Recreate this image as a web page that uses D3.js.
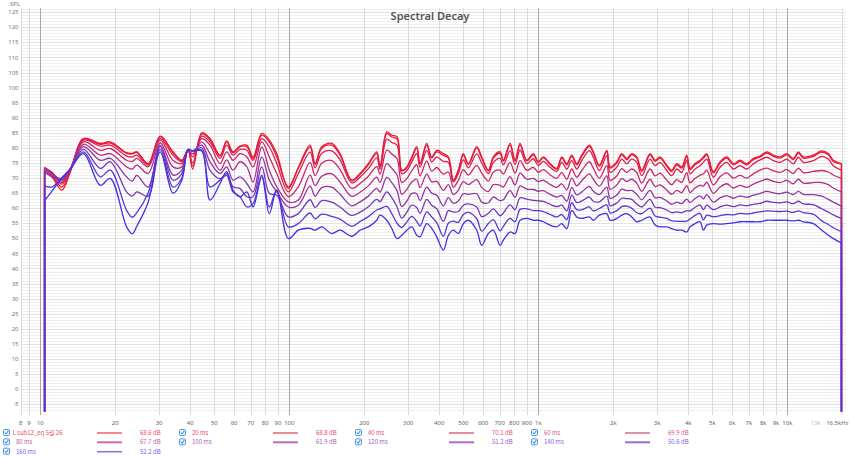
<!DOCTYPE html>
<html><head><meta charset="utf-8">
<script src="https://cdn.jsdelivr.net/npm/d3@7"></script>
<style>
html,body{margin:0;padding:0;background:#fff;}
svg{display:block;font-family:"Noto Sans","Noto Sans CJK KR",sans-serif;}
</style></head><body>
<svg id="chart" width="850" height="457"></svg>
<script>
// ---------------- data ----------------
const freqs = [10.4, 11.1, 12.2, 13.2, 14.9, 17.4, 19.1, 22.2, 23.4, 24.4, 27.1, 30.3, 34.1, 37.0, 39.2, 40.9, 44.5, 48.0, 52.7, 56.0, 59.4, 63.4, 67.5, 71.5, 77.5, 83.1, 89.0, 99.1, 108.7,
 121.1, 126.9, 134.9, 148.0, 159.8, 178.1, 192.3, 207.7, 224.4, 231.3, 246.2, 257.8, 270.8, 282.8, 296.2, 310.2, 324.8, 334.9, 356.2, 373.1, 390.8, 415.5, 435.2, 455.7, 477.2, 499.7, 523.4, 565.6, 592.4, 629.9, 659.7, 701.9, 723.6, 769.8, 806.3, 844.5, 898.3, 954.8, 1000, 1047, 1114, 1185,
 1242, 1301, 1362, 1426, 1494, 1603, 1663, 1758, 1883, 1941, 2065, 2163, 2265, 2372, 2484, 2602, 2809, 2942, 3081, 3278, 3433, 3595, 3766, 3944, 4066, 4259, 4461, 4600, 4747, 5044, 5367, 5710, 6068, 6457, 6870, 7303, 7770, 8268, 8787, 9349, 9945, 10571, 11071, 11593, 12720, 13748, 14610, 15299, 16500];

const s0ms = [72, 70.5, 66, 72, 83.1, 81.5, 82, 78.4, 78.2, 78.7, 74.8, 83.9, 78.7, 75.9, 79.5, 73, 85, 83.1, 77.6, 82.3, 78.7, 80.6, 80.9, 77, 84.8, 82.6, 78.1, 66.5, 73.5,
 80.9, 74.8, 80.4, 81.5, 78.1, 69.3, 71.5, 74.8, 78.7, 73.7, 85.3, 84.2, 83.7, 72.6, 73.7, 77.0, 80.4, 74.8, 81.5, 77.0, 79.2, 78.1, 77.0, 69.3, 72.6, 78.1, 74.8, 80.4, 77.0, 72.6, 77.0, 78.7, 75.9, 81.5, 75.9, 81.5, 75.9, 78.1, 75.4, 77.0, 74.8, 73.2,
 77.0, 74.8, 77.6, 74.8, 77.6, 80.9, 78.7, 74.3, 79.2, 73.7, 75.4, 78.1, 76.5, 78.1, 77.0, 72.6, 78.1, 75.9, 77.0, 74.3, 72.6, 74.8, 73.7, 77.6, 73.2, 74.8, 75.9, 77.0, 78.1, 72.1, 75.4, 77.0, 74.8, 75.9, 74.8, 76.5, 77.3, 78.7, 77.6, 77.0, 78.1, 76.5, 78.7, 77.0, 77.6, 79.0, 78.1, 75.9, 74.8];
const s20ms = [72.5, 71, 67, 72.5, 82.9, 81.2, 81.6, 78.2, 78, 78.5, 74.6, 83.7, 78.4, 75.7, 79.4, 74, 84.6, 82.8, 77.3, 82, 78.4, 80.4, 80.4, 76.5, 84.2, 82, 77, 67.1, 73.3,
 80.3, 74.5, 79.9, 80.9, 77.6, 69.1, 71.2, 74.4, 78.2, 73.6, 84.7, 83.6, 83.0, 72.4, 73.4, 76.6, 79.9, 74.6, 80.9, 76.6, 78.7, 77.5, 76.6, 69.2, 72.4, 77.6, 74.5, 79.9, 76.6, 72.4, 76.6, 78.2, 75.6, 80.9, 75.6, 81.0, 75.7, 77.7, 75.2, 76.7, 74.6, 73.0,
 76.6, 74.4, 77.2, 74.4, 77.2, 80.5, 78.3, 73.9, 78.8, 73.3, 75.0, 77.7, 76.1, 77.7, 76.6, 72.2, 77.7, 75.5, 76.6, 73.9, 72.2, 74.4, 73.3, 77.2, 72.8, 74.4, 75.5, 76.6, 77.7, 71.7, 75.0, 76.6, 74.4, 75.5, 74.4, 76.1, 77.0, 78.3, 77.2, 76.6, 77.7, 76.1, 78.3, 76.6, 77.2, 78.6, 77.7, 75.5, 74.6];
const s40ms = [73, 71.5, 68, 73, 82.6, 80.6, 80.9, 77.3, 77, 77.6, 74.3, 83.1, 77.6, 75.4, 79.3, 75, 83.9, 82, 76.5, 80.9, 77.6, 79.5, 79.2, 75.9, 83.1, 80.3, 74.8, 65.4, 71.5,
 78.6, 73.4, 78.2, 79.0, 76.0, 68.4, 70.3, 73.1, 76.7, 73.0, 82.9, 81.8, 80.9, 71.4, 72.4, 75.3, 78.1, 73.6, 79.2, 75.3, 77.0, 75.5, 75.2, 68.7, 71.5, 76.0, 73.4, 78.0, 75.0, 71.5, 75.2, 76.5, 74.4, 79.0, 74.5, 79.3, 74.8, 76.4, 74.2, 75.5, 73.6, 72.2,
 75.2, 73.0, 75.8, 73.0, 75.8, 79.1, 76.9, 72.5, 77.4, 71.9, 73.6, 76.3, 74.7, 76.3, 75.2, 70.8, 76.3, 74.1, 75.2, 72.5, 70.8, 73.0, 71.9, 75.8, 71.4, 73.0, 74.1, 75.2, 76.3, 70.3, 73.6, 75.2, 73.0, 74.1, 73.0, 74.7, 76.0, 76.9, 75.8, 75.2, 76.3, 74.7, 76.9, 75.2, 75.8, 77.2, 76.3, 74.1, 72.6];
const s60ms = [73.5, 72, 68.5, 73, 82, 79.2, 79.8, 75.9, 75.5, 76.5, 73.7, 82.6, 75.9, 74.8, 79.2, 77, 83.1, 80.9, 74.8, 78.7, 75.9, 78.1, 77, 73.7, 82, 77, 71.5, 63.8, 67.1,
 75.2, 70.8, 74.9, 75.8, 72.8, 66.6, 68.2, 70.6, 73.8, 71.3, 79.3, 78.0, 76.4, 68.5, 69.8, 72.4, 74.4, 70.7, 75.6, 72.3, 73.5, 71.3, 72.0, 67.0, 69.2, 72.8, 71.0, 74.2, 71.6, 69.0, 72.0, 72.6, 71.3, 75.2, 71.6, 75.8, 72.6, 73.5, 71.9, 72.8, 71.1, 69.9,
 71.8, 69.6, 73.0, 70.3, 72.5, 75.4, 73.3, 70.0, 74.1, 69.2, 70.7, 73.1, 71.9, 73.0, 71.8, 68.3, 73.0, 70.7, 71.6, 69.3, 67.8, 69.5, 68.6, 71.8, 68.4, 69.9, 70.9, 71.4, 72.6, 67.7, 70.4, 71.7, 70.0, 70.9, 70.0, 71.4, 72.6, 73.3, 72.4, 71.9, 72.8, 71.5, 73.3, 71.8, 72.2, 72.5, 72.0, 71.0, 69.9];
const s80ms = [73.5, 72, 69, 73, 81.2, 77.6, 78.1, 73.7, 73, 74.3, 71.5, 81.7, 73.7, 73.7, 79.2, 78, 82, 78.1, 72.6, 76, 72.6, 75.4, 73.7, 68.7, 80.3, 72.6, 67.1, 62.1, 62.7,
 71.0, 67.5, 70.6, 71.4, 68.7, 63.9, 65.3, 67.4, 70.3, 68.5, 74.8, 73.2, 71.0, 64.6, 66.2, 68.7, 69.6, 66.8, 71.3, 68.7, 68.9, 65.9, 67.8, 64.5, 66.0, 68.8, 67.8, 69.5, 66.9, 65.5, 67.8, 67.6, 67.0, 70.5, 67.7, 71.6, 69.6, 69.9, 68.8, 69.3, 67.9, 66.9,
 68.1, 66.1, 70.0, 67.4, 69.1, 71.4, 69.6, 67.3, 70.7, 66.3, 67.7, 69.8, 68.9, 69.6, 68.3, 65.6, 69.6, 67.2, 67.7, 66.0, 64.6, 65.9, 65.2, 67.5, 65.2, 66.7, 67.6, 67.3, 68.6, 64.9, 67.0, 68.1, 66.7, 67.6, 66.9, 68.0, 68.9, 69.6, 68.9, 68.5, 69.2, 68.1, 69.6, 68.3, 68.5, 68.5, 67.8, 66.7, 65.4];
const s100ms = [73, 71.5, 69.5, 73, 80.4, 75.9, 76.5, 70.4, 69, 70.9, 67, 80.9, 71, 72.6, 79.2, 79, 80.9, 75.4, 71.5, 73.7, 69.3, 70.4, 68.2, 65.4, 77, 69.3, 65.4, 60.4, 61,
 67.3, 64.0, 66.8, 67.0, 64.6, 60.8, 62.1, 64.0, 66.6, 65.3, 70.2, 68.5, 65.8, 60.5, 62.3, 64.9, 64.8, 62.5, 67.0, 65.0, 64.3, 60.8, 63.5, 61.6, 62.4, 64.8, 64.6, 64.8, 62.0, 61.8, 63.7, 62.5, 62.8, 65.8, 63.6, 67.4, 66.3, 66.2, 65.6, 65.8, 64.6, 63.7,
 64.2, 62.3, 66.9, 64.4, 65.4, 67.2, 65.6, 64.5, 67.0, 63.3, 64.4, 66.3, 65.8, 65.9, 64.6, 62.8, 65.9, 63.5, 63.6, 62.4, 61.3, 62.0, 61.5, 63.0, 61.9, 63.2, 64.1, 63.1, 64.5, 62.0, 63.4, 64.2, 63.3, 64.1, 63.6, 64.3, 64.9, 65.6, 65.1, 64.8, 65.3, 64.5, 65.6, 64.6, 64.5, 64.0, 62.9, 62.0, 60.7];
const s120ms = [72, 70.5, 70, 73, 79.5, 73.2, 75.4, 65.4, 64, 65.4, 64, 80.4, 69.3, 71.5, 79.3, 79, 80, 72.6, 69.8, 71.5, 67.1, 66.5, 63.8, 63.8, 73.7, 64.9, 64.3, 57.1, 58.2,
 62.8, 60.2, 62.5, 62.0, 60.4, 57.6, 58.7, 60.5, 62.9, 62.2, 65.4, 63.5, 60.4, 56.7, 58.6, 61.0, 60.2, 58.3, 62.9, 61.0, 59.8, 55.6, 59.2, 58.7, 58.9, 61.0, 61.4, 60.4, 57.2, 58.3, 59.8, 57.5, 58.4, 61.1, 59.5, 63.4, 63.0, 62.6, 62.4, 62.3, 61.3, 60.5,
 61.0, 59.1, 64.3, 61.9, 62.4, 63.7, 62.3, 62.1, 64.0, 60.8, 61.7, 63.3, 63.2, 62.9, 61.4, 60.4, 62.9, 60.3, 60.2, 59.4, 58.5, 58.8, 58.5, 59.2, 59.1, 60.3, 61.1, 59.5, 61.0, 59.5, 60.4, 61.0, 60.5, 61.1, 60.8, 61.3, 61.6, 62.3, 61.9, 61.8, 62.1, 61.5, 62.3, 61.4, 61.2, 59.8, 58.7, 57.8, 56.6];
const s140ms = [67.5, 67, 70, 73, 78.7, 70.4, 72.6, 59.3, 57, 58.5, 65, 79.5, 67, 70, 79.4, 79, 79.2, 67.1, 69.3, 70.9, 65.4, 63.8, 60.4, 61.5, 71, 60.4, 66, 53.8, 54.9,
 58.4, 56.5, 58.0, 57.3, 56.4, 54.0, 55.6, 57.2, 59.4, 59.8, 60.6, 58.2, 55.0, 53.6, 55.4, 57.3, 55.6, 54.1, 58.8, 57.1, 55.2, 50.7, 55.0, 55.7, 55.3, 57.9, 58.6, 56.5, 52.4, 54.9, 56.2, 52.5, 54.0, 56.6, 55.5, 59.6, 59.8, 59.2, 59.2, 58.9, 57.9, 57.1,
 57.9, 56.2, 61.8, 59.5, 59.5, 60.4, 59.1, 59.9, 61.1, 58.4, 59.2, 60.5, 60.7, 60.0, 58.5, 58.2, 60.0, 57.4, 57.0, 56.6, 55.8, 55.7, 55.6, 55.7, 56.4, 57.6, 58.3, 56.1, 57.7, 57.2, 57.5, 57.9, 57.8, 58.3, 58.1, 58.4, 58.8, 59.1, 59.0, 58.9, 59.0, 58.6, 59.1, 58.5, 58.0, 55.8, 54.6, 53.5, 52.2];
const s160ms = [62.5, 65.5, 70, 73, 78.1, 67.6, 69.9, 53.8, 51.5, 54, 62, 78.7, 65, 69.3, 79.5, 79, 79, 62.7, 68.2, 72.1, 66, 63.8, 65.4, 60.4, 70.4, 58.2, 66, 49.9, 52.7,
 53.3, 52.7, 53.8, 51.6, 52.7, 50.7, 52.7, 53.8, 56.0, 57.7, 56.0, 53.3, 49.9, 51.0, 52.7, 53.8, 51.0, 50.5, 54.9, 53.3, 50.5, 46.1, 51.0, 52.7, 51.6, 54.9, 56.0, 52.7, 47.7, 51.6, 52.7, 47.7, 49.4, 52.1, 51.6, 56.0, 56.6, 56.0, 56.0, 55.5, 54.4, 53.8,
 54.9, 53.2, 59.3, 57.1, 56.6, 57.1, 56.0, 57.7, 58.2, 56.0, 56.6, 57.7, 58.2, 57.1, 55.5, 56.0, 57.1, 54.4, 53.8, 53.8, 53.2, 52.7, 52.7, 52.1, 53.8, 54.9, 55.5, 52.7, 54.4, 54.9, 54.7, 54.9, 55.1, 55.5, 55.5, 55.5, 55.5, 56.0, 56.0, 56.0, 56.0, 55.8, 56.0, 55.5, 54.9, 52.7, 51.0, 49.9, 48.5];

const seriesNames = ["L sub12_eq 5월 26", "20 ms", "40 ms", "60 ms", "80 ms", "100 ms", "120 ms", "140 ms", "160 ms"];
const legendValues = ["68.6 dB", "68.8 dB", "70.1 dB", "69.9 dB", "67.7 dB", "61.9 dB", "51.2 dB", "50.6 dB", "52.2 dB"];
const seriesValues = [s0ms, s20ms, s40ms, s60ms, s80ms, s100ms, s120ms, s140ms, s160ms];
const seriesColors = ["#ee1a2c", "#e8193a", "#df1c4e", "#cc2668", "#b02e88", "#9233a4", "#7636bc", "#5c36d2", "#4232e6"];

const xTickValues = [8.34, 9, 10, 20, 30, 40, 50, 60, 70, 80, 90, 100, 200, 300, 400, 500, 600, 700, 800, 900, 1000, 2000, 3000, 4000, 5000, 6000, 7000, 8000, 9000, 10000, 13000, 16500];
const xTickLabels = ["8", "9", "10", "20", "30", "40", "50", "60", "70", "80", "90", "100", "200", "300", "400", "500", "600", "700", "800", "900", "1k", "2k", "3k", "4k", "5k", "6k", "7k", "8k", "9k", "10k", "13k", "16.5kHz"];
const yTickValues = d3.range(-5, 126, 5);

// ---------------- layout ----------------
const svg = d3.select("#chart");
const W = 850, H = 457;
const plot = {left: 20.7, right: 841.5, top: 8.3, bottom: 411.7};

const x = d3.scaleLog().domain([8.34, 16500]).range([plot.left, plot.right]);
const y = d3.scaleLinear().domain([-7.5, 126.3]).range([plot.bottom, plot.top]);

svg.append("rect").attr("width", W).attr("height", H).attr("fill", "#fff");

// horizontal grid: 1 dB minor, 5 dB major
const gGrid = svg.append("g");
d3.range(-7, 127, 1).forEach(v => {
  gGrid.append("line")
    .attr("x1", plot.left).attr("x2", 846)
    .attr("y1", Math.round(y(v)) + 0.5).attr("y2", Math.round(y(v)) + 0.5)
    .attr("stroke", v % 5 === 0 ? "#e2e2e2" : "#efefef")
    .attr("stroke-width", 1);
});

// vertical grid
const gridFreqs = [];
[1, 10, 100, 1000, 10000].forEach(dec => {
  for (let m = 1; m <= 9; m++) {
    const f = m * dec;
    if (f > 8.34 && f < 16500) gridFreqs.push({f, major: m === 1});
  }
});
gridFreqs.forEach(g => {
  gGrid.append("line")
    .attr("x1", Math.round(x(g.f)) + 0.5).attr("x2", Math.round(x(g.f)) + 0.5)
    .attr("y1", plot.top).attr("y2", 415)
    .attr("stroke", g.major ? "#a8a8a8" : "#dadada")
    .attr("stroke-width", 1);
});
[plot.left, plot.right].forEach(px => {
  gGrid.append("line")
    .attr("x1", Math.round(px) + 0.5).attr("x2", Math.round(px) + 0.5)
    .attr("y1", plot.top).attr("y2", 415)
    .attr("stroke", "#dcdcdc");
});

// y tick labels
const gY = svg.append("g").attr("font-size", 6).attr("fill", "#777");
yTickValues.forEach(v => {
  gY.append("text").attr("x", 18.5).attr("y", y(v)).attr("dy", "0.35em")
    .attr("text-anchor", "end").text(v);
});
svg.append("text").attr("x", 10).attr("y", 6).attr("font-size", 6).attr("fill", "#777").text("SPL");

// x tick labels
const gX = svg.append("g").attr("font-size", 6).attr("fill", "#666");
xTickValues.forEach((f, i) => {
  const lbl = xTickLabels[i];
  const t = gX.append("text").attr("y", 422.5).attr("dy", "0.35em").text(lbl);
  if (lbl === "16.5kHz") t.attr("x", x(f) + 7).attr("text-anchor", "end");
  else t.attr("x", x(f)).attr("text-anchor", "middle");
  if (lbl === "13k") t.attr("fill", "#bbb");
});

// title
svg.append("text").attr("x", 430).attr("y", 16).attr("dy", "0.35em")
  .attr("text-anchor", "middle").attr("font-size", 11).attr("font-weight", 600)
  .attr("fill", "#555").text("Spectral Decay");

// clip
svg.append("clipPath").attr("id", "clip").append("rect")
  .attr("x", plot.left).attr("y", plot.top)
  .attr("width", plot.right - plot.left + 1).attr("height", plot.bottom - plot.top);

const gLines = svg.append("g").attr("clip-path", "url(#clip)");
const line = d3.line().x(d => x(d.f)).y(d => y(d.v)).curve(d3.curveCatmullRom.alpha(0.5));

seriesValues.forEach((vals, i) => {
  const pts = freqs.map((f, k) => ({f, v: vals[k]}));
  const col = seriesColors[i];
  const g = gLines.append("g");
  // drop lines at both ends (data starts/ends there)
  const first = pts[0], last = pts[pts.length - 1];
  [first, last].forEach(p => {
    g.append("line").attr("x1", x(p.f)).attr("x2", x(p.f))
      .attr("y1", y(p.v)).attr("y2", y(-7.5) + 5)
      .attr("stroke", col).attr("stroke-width", 1.3);
  });
  g.append("path").attr("d", line(pts)).attr("fill", "none")
    .attr("stroke", col).attr("stroke-width", 1.3).attr("stroke-linejoin", "round");
});

// legend
const gL = svg.append("g").attr("font-size", 6).attr("font-family", '"Noto Sans CJK KR","Noto Sans",sans-serif');
const rowsY = [433, 442.3, 451.7];
seriesNames.forEach((name, i) => {
  const col = i % 4, row = Math.floor(i / 4);
  const cx = 176 * col, cy = rowsY[row];
  const light = d3.interpolateRgb(seriesColors[i], "#ffffff")(0.22);
  const lineCol = d3.interpolateRgb(seriesColors[i], "#ffffff")(0.3);
  gL.append("rect").attr("x", cx + 3.5).attr("y", cy - 3.5).attr("width", 6).attr("height", 6)
    .attr("rx", 1).attr("fill", "#eaf3fd").attr("stroke", "#3d8ee0").attr("stroke-width", 0.9);
  gL.append("path").attr("d", `M${cx + 4.8},${cy - 0.6} L${cx + 6.2},${cy + 1} L${cx + 8.3},${cy - 2.2}`)
    .attr("fill", "none").attr("stroke", "#2f7fd6").attr("stroke-width", 1);
  gL.append("text").attr("x", cx + (i === 0 ? 12.5 : 16)).attr("y", cy).attr("dy", "0.35em")
    .attr("fill", light).text(name);
  gL.append("line").attr("x1", cx + 97).attr("x2", cx + 122).attr("y1", cy).attr("y2", cy)
    .attr("stroke", lineCol).attr("stroke-width", row === 1 ? 2 : 1.5);
  gL.append("text").attr("x", cx + 140).attr("y", cy).attr("dy", "0.35em")
    .attr("fill", light).text(legendValues[i]);
});
</script>
</body></html>
